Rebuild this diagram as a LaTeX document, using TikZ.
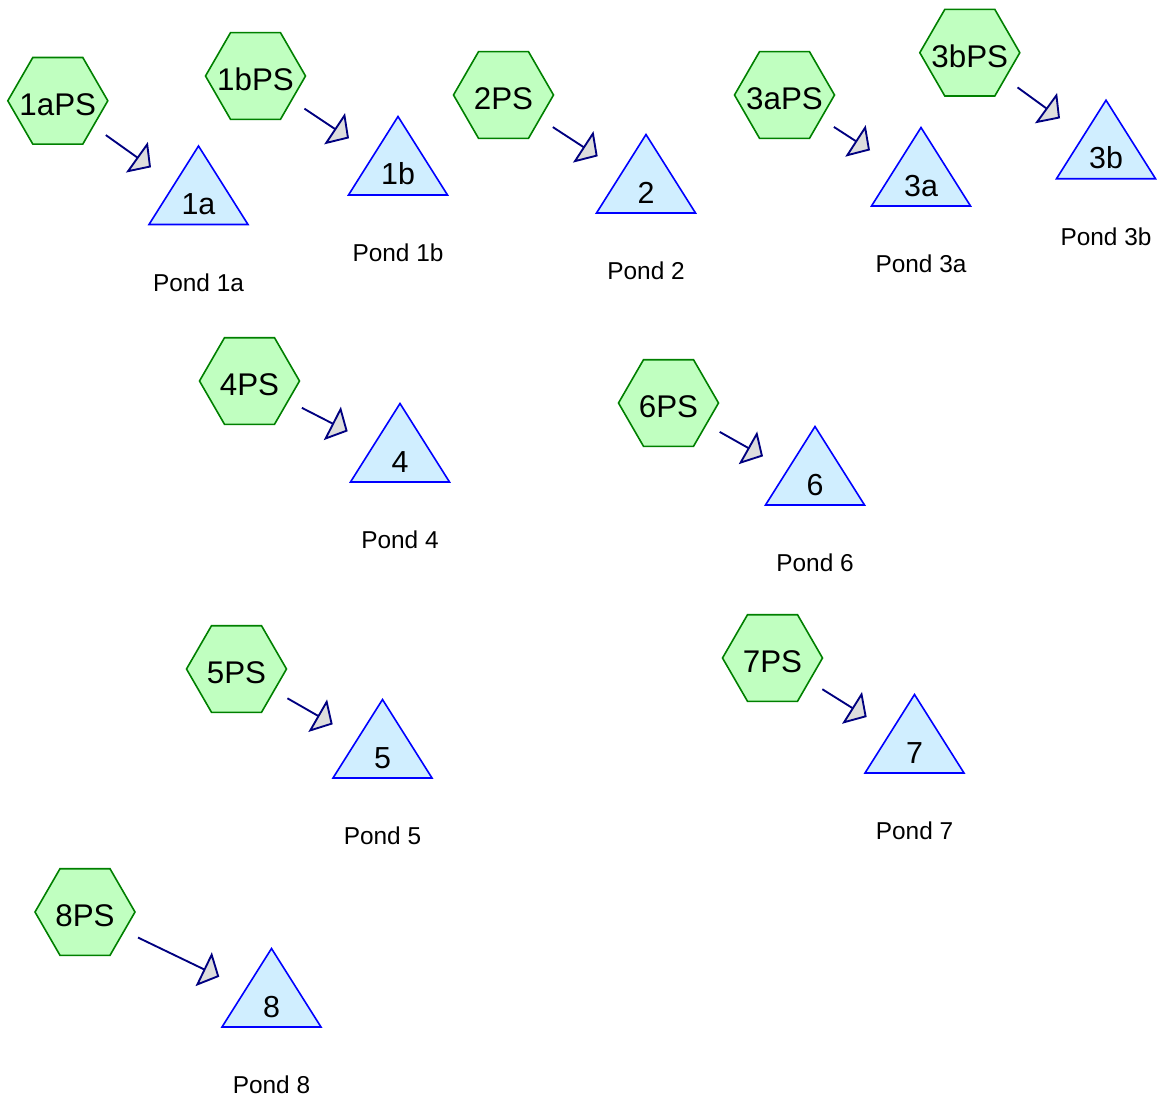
\documentclass[tikz,border=0pt]{standalone}
\usepackage{fontspec}
\setmainfont{Liberation Sans}
\usetikzlibrary{shapes.geometric,arrows.meta}
\definecolor{hexfill}{HTML}{C0FFC0}
\definecolor{hexline}{HTML}{008000}
\definecolor{trifill}{HTML}{D0EEFF}
\definecolor{triline}{HTML}{0000FF}
\definecolor{arrline}{HTML}{000080}
\definecolor{headfill}{HTML}{DDDDDD}
\tikzset{
  pumphex/.style={regular polygon, regular polygon sides=6, minimum size=75pt,
    inner sep=0pt, draw=hexline, fill=hexfill, line width=1.2pt},
  hexlbl/.style={inner sep=0pt, anchor=base, font=\fontsize{23.5pt}{23.5pt}\selectfont},
  tri/.style={draw=triline, fill=trifill, line width=1.2pt, line join=miter},
  trilbl/.style={inner sep=0pt, anchor=base, font=\fontsize{22.8pt}{22.8pt}\selectfont},
  pondlbl/.style={inner sep=0pt, anchor=base, font=\fontsize{18.3pt}{18.3pt}\selectfont},
  flow/.style={draw=arrline, line width=1.4pt, shorten <=11pt,
    -{Triangle[length=13pt,width=28pt,fill=headfill,line join=miter]}}
}
\newcommand\pumphexnode[4]{%
  \node[pumphex] (h#1) at (#2,#3) {};
  \node[hexlbl] (l#1) at (#2,#3+14.5) {#4};
}
\newcommand\pondtri[5]{%
  \draw[tri] (#2-49.5,#3) -- (#2,#3-78.5) -- (#2+49.5,#3) -- cycle;
  \node[trilbl] (t#1) at (#2,#3-10) {#4};
  \node[pondlbl] (p#1) at (#2,#3+66.5) {#5};
}
\begin{document}
\begin{tikzpicture}[x=0.75pt,y=-0.75pt]
\path[use as bounding box] (0,0) rectangle (1159,1102);

% pump stations
\pumphexnode{1a}{57.8}{100.8}{1aPS}
\pumphexnode{1b}{255.5}{76}{1bPS}
\pumphexnode{2}{503.5}{95}{2PS}
\pumphexnode{3a}{784.5}{95}{3aPS}
\pumphexnode{3b}{969.8}{52.7}{3bPS}
\pumphexnode{4}{249.5}{381}{4PS}
\pumphexnode{6}{668.5}{403}{6PS}
\pumphexnode{5}{236.5}{669}{5PS}
\pumphexnode{7}{772.5}{658}{7PS}
\pumphexnode{8}{85}{912}{8PS}

% ponds
\pondtri{1a}{198.5}{224.5}{1a}{Pond 1a}
\pondtri{1b}{398}{195}{1b}{Pond 1b}
\pondtri{2}{646}{213}{2}{Pond 2}
\pondtri{3a}{921}{206}{3a}{Pond 3a}
\pondtri{3b}{1106}{178.7}{3b}{Pond 3b}
\pondtri{4}{400}{482}{4}{Pond 4}
\pondtri{6}{815}{505}{6}{Pond 6}
\pondtri{5}{382.5}{778}{5}{Pond 5}
\pondtri{7}{914.5}{773}{7}{Pond 7}
\pondtri{8}{271.5}{1027}{8}{Pond 8}

% arrow tips
\coordinate (e1a) at (151,167.3);
\coordinate (e1b) at (349,138.3);
\coordinate (e2) at (597.7,156.3);
\coordinate (e3a) at (870,150.3);
\coordinate (e3b) at (1060,118.3);
\coordinate (e4) at (347.7,431.3);
\coordinate (e6) at (763,456.3);
\coordinate (e5) at (332.7,724.3);
\coordinate (e7) at (866.7,717);
\coordinate (e8) at (219.3,976.7);

\foreach \k in {1a,1b,2,3a,3b,4,6,5,7,8}{
  \draw[flow] (h\k) -- (e\k);
}
\end{tikzpicture}
\end{document}
